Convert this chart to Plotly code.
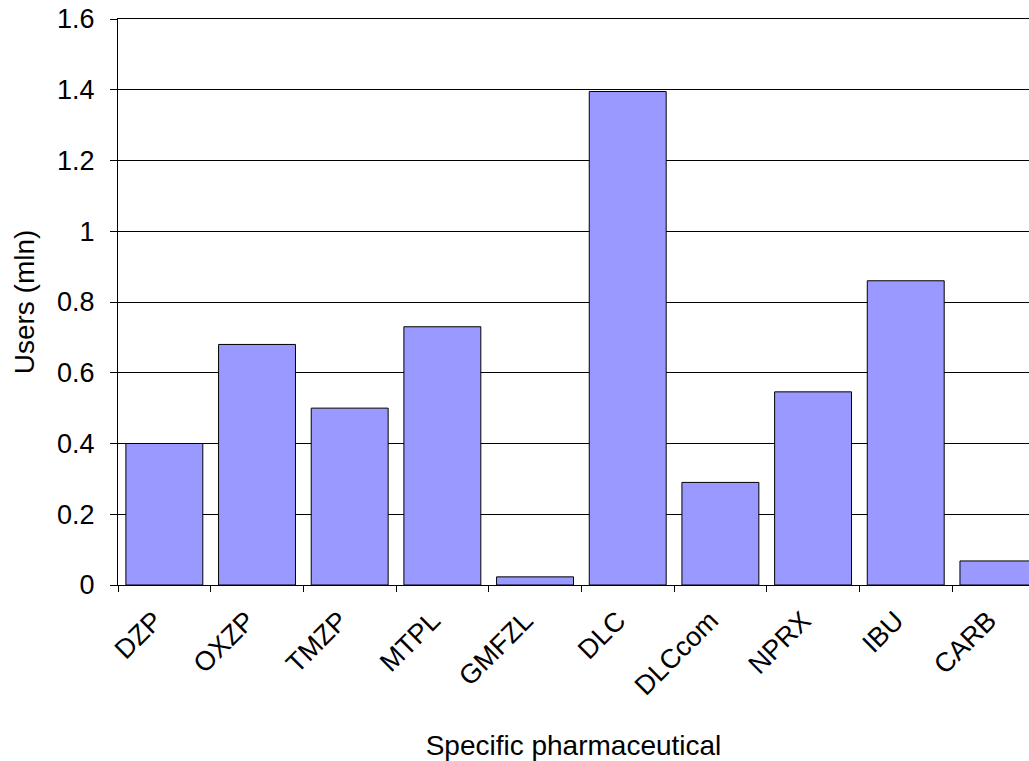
import plotly.graph_objects as go

categories = ["DZP", "OXZP", "TMZP", "MTPL", "GMFZL", "DLC", "DLCcom", "NPRX", "IBU", "CARB"]
users_mln = [0.40, 0.68, 0.50, 0.73, 0.023, 1.395, 0.29, 0.546, 0.86, 0.068]
y_ticks = [0, 0.2, 0.4, 0.6, 0.8, 1.0, 1.2, 1.4, 1.6]
y_tick_text = ["0", "0.2", "0.4", "0.6", "0.8", "1", "1.2", "1.4", "1.6"]

fig = go.Figure(go.Bar(
    x=categories, y=users_mln,
    marker=dict(color="#9999FF", line=dict(color="black", width=1)),
    width=0.83,
))

font = dict(family="Liberation Sans, Arial, sans-serif", size=27, color="black")
title_font = dict(family="Liberation Sans, Arial, sans-serif", size=28, color="black")

fig.update_layout(
    width=1029, height=761,
    margin=dict(l=118, r=0, t=19, b=176),
    paper_bgcolor="white", plot_bgcolor="white",
    font=font,
    showlegend=False,
)
fig.update_xaxes(
    range=[-0.5, 9.33], automargin=False,
    showline=True, linecolor="black", linewidth=1, mirror=True,
    ticks="outside", tickson="boundaries", ticklen=6, tickcolor="black",
    tickangle=-45, showgrid=False, tickfont=font,
    ticklabelshift=-10, ticklabelstandoff=8,
    title=dict(text="Specific pharmaceutical", font=title_font, standoff=38),
)
fig.update_yaxes(
    range=[0, 1.6], automargin=False,
    tickvals=y_ticks, ticktext=y_tick_text, tickfont=font,
    showline=True, linecolor="black", linewidth=1,
    ticks="outside", ticklen=7, tickcolor="black",
    ticklabelstandoff=10, ticklabeloverflow="allow",
    showgrid=True, gridcolor="black", gridwidth=1,
    zeroline=False,
    title=dict(text="Users (mln)", font=title_font, standoff=14),
)

# remove the page's default 8px body margin so the figure fills the window
fig.write_html("out.html", config={"displayModeBar": False},
               post_script="document.body.style.margin='0';")
